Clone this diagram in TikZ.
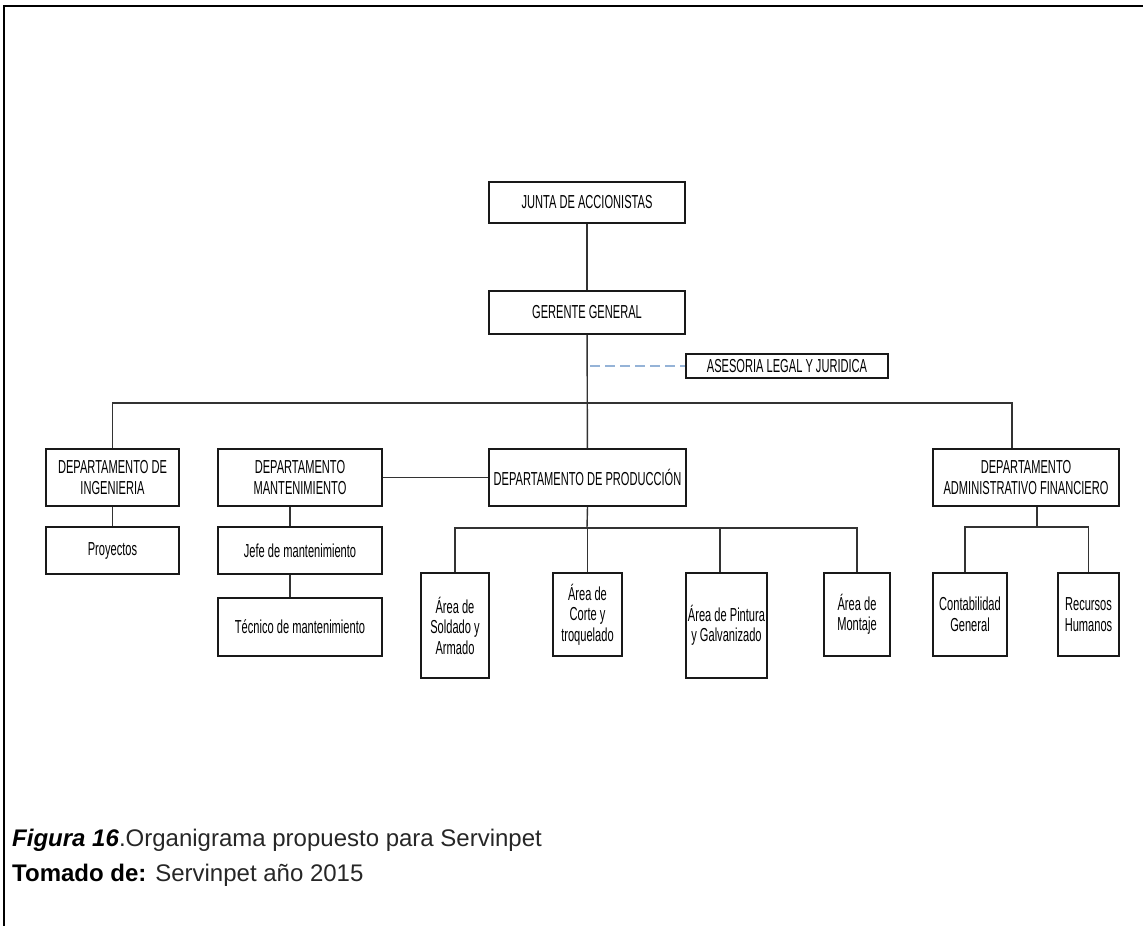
\documentclass[tikz,border=0pt]{standalone}
\usepackage{fontspec}
\setmainfont{Liberation Sans}
\newfontfamily\narrowfont[FakeStretch=0.59]{Liberation Sans}
\usetikzlibrary{calc}
\definecolor{linegray}{HTML}{333333}
\definecolor{advisor}{HTML}{95B3D7}
\begin{document}
\begin{tikzpicture}[x=1pt,y=-1pt,
  orgbox/.style={draw=black!90,line width=1.5pt,fill=white,inner sep=2pt,
    align=center,font=\narrowfont\fontsize{18.8}{20.5}\selectfont},
  link/.style={draw=linegray,line width=1.4pt},
  advice/.style={draw=advisor,line width=2pt,dash pattern=on 10pt off 5pt}]
\useasboundingbox (0,0) rectangle (1143,926);
% page frame (top and left rules)
\draw[line width=2pt] (4,926) -- (4,6) -- (1143,6);

% top levels
\node[orgbox,minimum width=196pt,minimum height=41pt] (junta) at (587,202.5) {JUNTA DE ACCIONISTAS};
\node[orgbox,minimum width=196pt,minimum height=43pt] (gerente) at (587,312.5) {GERENTE GENERAL};
\node[orgbox,minimum width=202pt,minimum height=24pt] (asesoria) at (787,366) {ASESORIA LEGAL Y JURIDICA};

% departments
\node[orgbox,minimum width=133pt,minimum height=57pt] (ing) at (112.5,477.5) {DEPARTAMENTO DE\\INGENIERIA};
\node[orgbox,minimum width=164pt,minimum height=57pt] (mant) at (300,477.5) {DEPARTAMENTO\\MANTENIMIENTO};
\node[orgbox,minimum width=197pt,minimum height=57pt,inner sep=1pt] (prod) at (587.5,477.5) {DEPARTAMENTO DE PRODUCCIÓN};
\node[orgbox,minimum width=186pt,minimum height=57pt] (adm) at (1026,477.5) {DEPARTAMENTO\\ADMINISTRATIVO FINANCIERO};

% engineering and maintenance units
\node[orgbox,minimum width=133pt,minimum height=47pt] (proy) at (112.5,550.5) {Proyectos};
\node[orgbox,minimum width=164pt,minimum height=47pt] (jefe) at (300,550.5) {Jefe de mantenimiento};
\node[orgbox,minimum width=164pt,minimum height=58pt] (tec) at (300,627) {Técnico de mantenimiento};

% production areas
\node[orgbox,minimum width=68pt,minimum height=105pt] (sold) at (455,625.5) {Área de\\Soldado y\\Armado};
\node[orgbox,minimum width=69pt,minimum height=83pt] (corte) at (587.5,614.5) {Área de\\Corte y\\troquelado};
\node[orgbox,minimum width=81pt,minimum height=105pt,inner sep=1pt] (pint) at (726.5,625.5) {Área de Pintura\\y Galvanizado};
\node[orgbox,minimum width=66pt,minimum height=83pt] (mont) at (857,614.5) {Área de\\Montaje};

% administrative units
\node[orgbox,minimum width=74pt,minimum height=83pt] (cont) at (970,614.5) {Contabilidad\\General};
\node[orgbox,minimum width=61pt,minimum height=83pt] (rrhh) at (1088.5,614.5) {Recursos\\Humanos};

% connectors
\coordinate (bus) at (587,403);
\coordinate (prodbus) at (587,528);
\coordinate (admbus) at (1037,527);

\draw[link] (junta) -- (gerente);
\draw[link] (gerente) -- (prod);
\draw[advice] ([xshift=3pt]gerente.south |- asesoria.west) -- (asesoria.west);
\draw[link] (ing.north) |- (bus) -| ([xshift=-14pt]adm.north);
\draw[link] (mant.east) -- (prod.west);
\draw[link] (ing) -- (proy);
\draw[link] ([xshift=-10pt]mant.south) -- ([xshift=-10pt]jefe.north);
\draw[link] ([xshift=-10pt]jefe.south) -- ([xshift=-10pt]tec.north);

\draw[link] (prod.south) -- (prodbus);
\draw[link] (sold.north) |- (prodbus) -| (mont.north);
\draw[link] (corte.north) -- (corte.north |- prodbus);
\draw[link] ([xshift=-6.5pt]pint.north) -- ([xshift=-6.5pt]pint.north |- prodbus);

\draw[link] ([xshift=11pt]adm.south) -- (admbus);
\draw[link] ([xshift=-5pt]cont.north) |- (admbus) -| (rrhh.north);

% caption
\node[anchor=base west,inner sep=0pt,font=\fontsize{24}{28}\selectfont,text=black!85] (cap1) at (12,846)
  {\textcolor{black}{\textbf{\textit{Figura 16}}}.Organigrama propuesto para Servinpet};
\node[anchor=base west,inner sep=0pt,font=\fontsize{24}{28}\selectfont,text=black!85] (cap2) at (12,881)
  {\textcolor{black}{\textbf{Tomado de:}} Servinpet año 2015};
\end{tikzpicture}
\end{document}
